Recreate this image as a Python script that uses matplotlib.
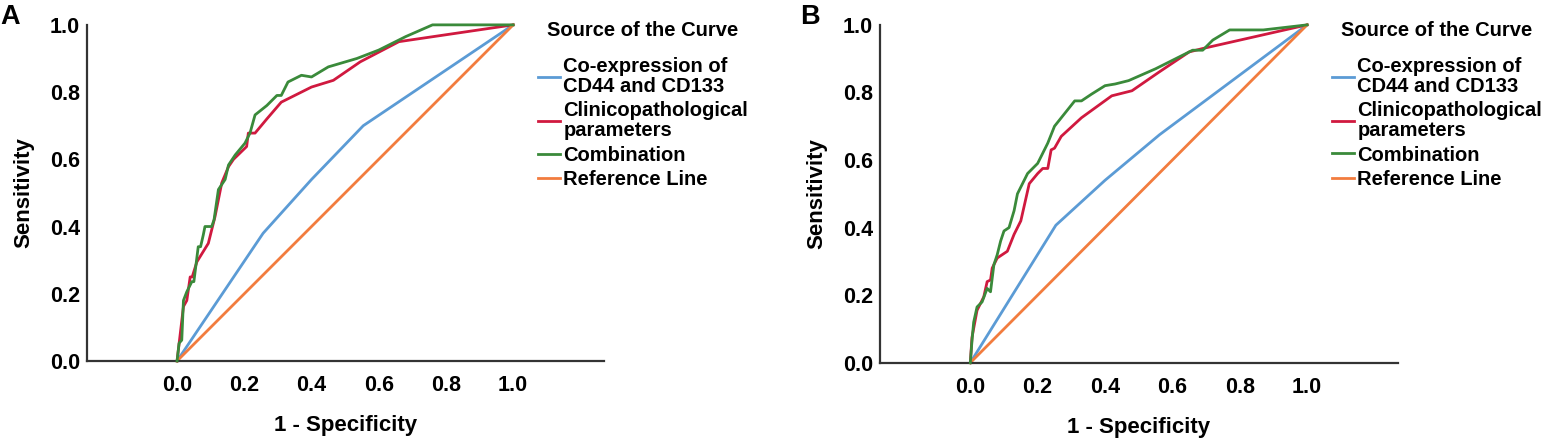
import numpy as np
import matplotlib
matplotlib.use('Agg')
import matplotlib.pyplot as plt

plt.rcParams['font.family'] = ['Liberation Sans', 'DejaVu Sans']
plt.rcParams['font.weight'] = 'bold'

''' datos leidos de la figura: panel A '''
a_comb_x = [0, 0.006, 0.014, 0.019, 0.029, 0.044, 0.050, 0.063, 0.070, 0.078, 0.083, 0.103, 0.110,
            0.123, 0.143, 0.153, 0.173, 0.202, 0.217, 0.232, 0.267, 0.297, 0.31, 0.33, 0.37, 0.40,
            0.45, 0.535, 0.60, 0.68, 0.76, 1.0]
a_comb_y = [0, 0.053, 0.062, 0.18, 0.206, 0.236, 0.236, 0.34, 0.34, 0.375, 0.40, 0.40, 0.42,
            0.51, 0.54, 0.583, 0.613, 0.648, 0.678, 0.732, 0.76, 0.79, 0.79, 0.83, 0.85, 0.845,
            0.875, 0.90, 0.925, 0.965, 1.0, 1.0]
a_clin_x = [0, 0.019, 0.029, 0.039, 0.045, 0.059, 0.093, 0.113, 0.133, 0.153, 0.168, 0.207, 0.212,
            0.232, 0.267, 0.31, 0.40, 0.465, 0.545, 0.66, 1.0]
a_clin_y = [0, 0.162, 0.18, 0.25, 0.25, 0.295, 0.35, 0.43, 0.53, 0.578, 0.60, 0.638, 0.678,
            0.678, 0.72, 0.77, 0.815, 0.835, 0.89, 0.95, 1.0]
a_coexp_x = [0, 0.256, 0.40, 0.554, 1.0]
a_coexp_y = [0, 0.38, 0.54, 0.70, 1.0]

''' panel B '''
b_comb_x = [0, 0.005, 0.01, 0.02, 0.035, 0.05, 0.06, 0.07, 0.08, 0.09, 0.10, 0.115, 0.13, 0.14,
            0.17, 0.20, 0.23, 0.25, 0.27, 0.31, 0.33, 0.36, 0.40, 0.43, 0.47, 0.55, 0.61, 0.66,
            0.69, 0.72, 0.77, 0.87, 1.0]
b_comb_y = [0, 0.065, 0.12, 0.165, 0.18, 0.22, 0.21, 0.29, 0.32, 0.36, 0.39, 0.40, 0.45, 0.50,
            0.56, 0.59, 0.65, 0.70, 0.725, 0.775, 0.775, 0.795, 0.82, 0.825, 0.835, 0.87, 0.90, 0.925,
            0.925, 0.955, 0.985, 0.985, 1.0]
b_clin_x = [0, 0.005, 0.02, 0.04, 0.05, 0.06, 0.065, 0.08, 0.095, 0.11, 0.13, 0.15, 0.175, 0.20,
            0.215, 0.23, 0.24, 0.25, 0.27, 0.33, 0.42, 0.48, 0.56, 0.65, 0.69, 1.0]
b_clin_y = [0, 0.075, 0.155, 0.195, 0.24, 0.245, 0.28, 0.31, 0.32, 0.33, 0.38, 0.42, 0.53, 0.56,
            0.575, 0.575, 0.63, 0.635, 0.67, 0.725, 0.79, 0.805, 0.86, 0.92, 0.93, 1.0]
b_coexp_x = [0, 0.254, 0.40, 0.562, 1.0]
b_coexp_y = [0, 0.407, 0.54, 0.675, 1.0]

ref_x = [0, 1]
ref_y = [0, 1]

labels = ['Co-expression of\nCD44 and CD133', 'Clinicopathological\nparameters',
          'Combination', 'Reference Line']
colores = ['#5b9bd5', '#d0193f', '#3a8a3a', '#f27c3e']
ticks = [0.0, 0.2, 0.4, 0.6, 0.8, 1.0]

fig = plt.figure(figsize=(15.45, 4.44), dpi=100)
ax_a = fig.add_axes([0.0563, 0.187, 0.3346, 0.757])
ax_b = fig.add_axes([0.5696, 0.183, 0.3353, 0.761])

paneles = [
    (ax_a, 'A', 0.0, a_coexp_x, a_coexp_y, a_clin_x, a_clin_y, a_comb_x, a_comb_y),
    (ax_b, 'B', 0.518, b_coexp_x, b_coexp_y, b_clin_x, b_clin_y, b_comb_x, b_comb_y),
]

for ax, letra, lx, cx, cy, kx, ky, gx, gy in paneles:
    ax.plot(cx, cy, color=colores[0], lw=2, label=labels[0], clip_on=False)
    ax.plot(kx, ky, color=colores[1], lw=2, label=labels[1], clip_on=False)
    ax.plot(gx, gy, color=colores[2], lw=2, label=labels[2], clip_on=False, zorder=3)
    ax.plot(ref_x, ref_y, color=colores[3], lw=2, label=labels[3], clip_on=False)
    ax.set_xlim(-0.268, 1.27)
    ax.set_ylim(0, 1)
    ax.set_xticks(ticks)
    ax.set_yticks(ticks)
    ax.set_xticklabels([f'{t:.1f}' for t in ticks], fontsize=15.5, fontweight='bold')
    ax.set_yticklabels([f'{t:.1f}' for t in ticks], fontsize=15.5, fontweight='bold')
    ax.tick_params(axis='y', length=0, pad=5)
    ax.tick_params(axis='x', length=0, pad=10)
    for s in ['top', 'right']:
        ax.spines[s].set_visible(False)
    for s in ['left', 'bottom']:
        ax.spines[s].set_linewidth(1.6)
        ax.spines[s].set_color('#333333')
    ax.set_xlabel('1 - Specificity', fontsize=16, fontweight='bold', labelpad=14)
    ax.set_ylabel('Sensitivity', fontsize=16, fontweight='bold', labelpad=11)
    leg = ax.legend(loc='upper left', bbox_to_anchor=(0.857, 1.035), frameon=False,
                    title='Source of the Curve', fontsize=14.5, handlelength=1.1,
                    handletextpad=0.15, labelspacing=0.28, borderaxespad=0)
    leg.get_title().set_fontsize(14.5)
    leg.get_title().set_fontweight('bold')
    for t in leg.get_texts():
        t.set_fontweight('bold')
        t.set_linespacing(1.05)
    # separacion entre titulo y entradas
    leg._legend_box.sep = 12
    # letra del panel
    fig.text(lx, 0.945, letra, fontsize=19.5, fontweight='bold', va='baseline')

fig.savefig('out.png', dpi=100)
